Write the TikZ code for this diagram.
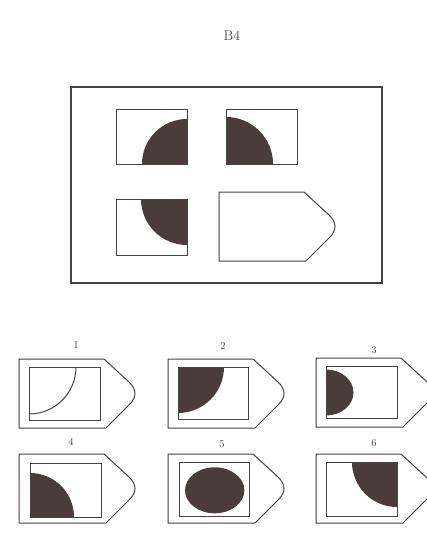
\documentclass[tikz,border=0pt]{standalone}
\usetikzlibrary{calc}
\definecolor{inkc}{RGB}{70,66,66}
\definecolor{darkfill}{RGB}{74,60,60}
\tikzset{
  thinline/.style={draw=inkc, line width=1pt},
  frameline/.style={draw=inkc, line width=1.7pt},
  darkpart/.style={fill=darkfill},
  numlabel/.style={text=inkc, font=\fontsize{10.5}{12}\selectfont, inner sep=0pt},
  titlelabel/.style={text=inkc, font=\fontsize{14}{16}\selectfont, inner sep=0pt},
  pics/tagshape/.style={code={
    \draw[thinline] (0,0) -- (85,0) -- (110,23) .. controls (118,30.5) and (118,38.5) .. (110,46) -- (87,69) -- (0,69) -- cycle;
  }}
}
\begin{document}
\begin{tikzpicture}[x=1pt,y=-1pt]
\useasboundingbox (0,0) rectangle (427,552);
\clip (0,0) rectangle (427,552);
\fill[white] (0,0) rectangle (427,552);

% title
\node[titlelabel] (title) at (232,36) {B4};

% main frame
\draw[frameline] (71,87) rectangle (382,283);

% top-left cell
\begin{scope}
  \clip (116,109) rectangle (187,164);
  \fill[darkpart] (187,164) circle[radius=45pt];
\end{scope}
\draw[thinline] (116,109) rectangle (187,164);

% top-right cell
\begin{scope}
  \clip (226,109) rectangle (297,164);
  \fill[darkpart] (226,164) circle[radius=47pt];
\end{scope}
\draw[thinline] (226,109) rectangle (297,164);

% bottom-left cell
\begin{scope}
  \clip (116,199) rectangle (187,255);
  \fill[darkpart] (187,199) circle[radius=46pt];
\end{scope}
\draw[thinline] (116,199) rectangle (187,255);

% empty tag in frame
\pic at (219,192) {tagshape};

% ---- options ----
% option 1
\node[numlabel] (n1) at (76,345) {1};
\pic at (19,359) {tagshape};
\draw[thinline] (29,367) rectangle (100,420);
\begin{scope}
  \clip (29,367) rectangle (100,420);
  \draw[thinline] (29,367) circle[radius=47pt];
\end{scope}

% option 2
\node[numlabel] (n2) at (223,346) {2};
\pic at (168,359) {tagshape};
\begin{scope}
  \clip (178,367) rectangle (248,419);
  \fill[darkpart] (178,367) circle[radius=46pt];
\end{scope}
\draw[thinline] (178,367) rectangle (248,419);

% option 3
\node[numlabel] (n3) at (374,350) {3};
\pic at (316,358) {tagshape};
\begin{scope}
  \clip (326,366) rectangle (397,418);
  \fill[darkpart] (326,392.5) ellipse[x radius=27.5pt, y radius=23pt];
\end{scope}
\draw[thinline] (326,366) rectangle (397,418);

% option 4
\node[numlabel] (n4) at (71,442) {4};
\pic at (19,454) {tagshape};
\begin{scope}
  \clip (30,463) rectangle (101,517);
  \fill[darkpart] (30,517) circle[radius=44pt];
\end{scope}
\draw[thinline] (30,463) rectangle (101,517);

% option 5
\node[numlabel] (n5) at (222,444) {5};
\pic at (168,454) {tagshape};
\draw[thinline] (179,462) rectangle (249,516);
\fill[darkpart] (214.7,490.3) ellipse[x radius=29.7pt, y radius=23pt];

% option 6
\node[numlabel] (n6) at (374,443) {6};
\pic at (316,454) {tagshape};
\begin{scope}
  \clip (326,462) rectangle (397,516);
  \fill[darkpart] (397,462) circle[radius=45pt];
\end{scope}
\draw[thinline] (326,462) rectangle (397,516);
\end{tikzpicture}
\end{document}
